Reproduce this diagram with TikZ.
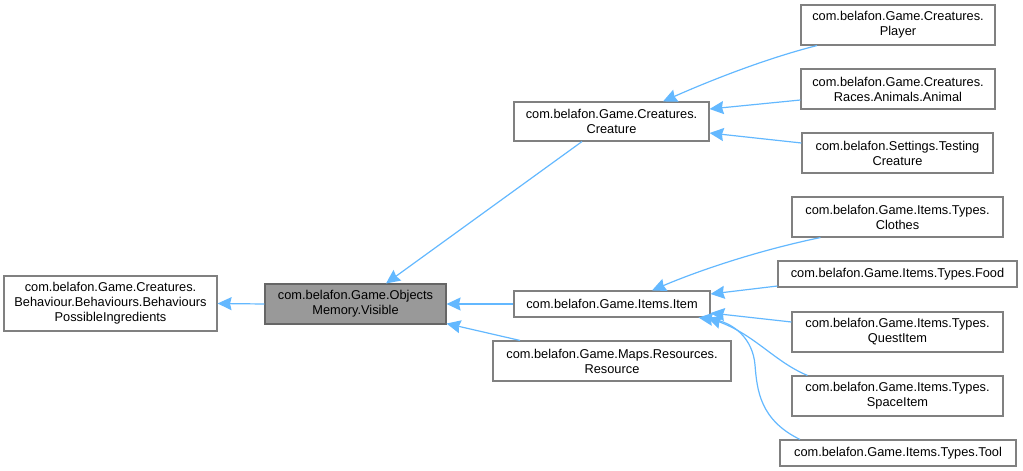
\documentclass[tikz,border=0pt]{standalone}
\usepackage{fontspec}
\setmainfont{Liberation Sans}
\usetikzlibrary{arrows.meta}
\definecolor{edgeblue}{HTML}{63B8FF}
\definecolor{boxborder}{HTML}{808080}
\definecolor{curfill}{HTML}{999999}
\definecolor{curborder}{HTML}{666666}
\tikzset{
  cls/.style={draw=boxborder, line width=1.1pt, fill=white, align=center, inner sep=0pt,
    font=\fontsize{12.8}{15}\selectfont},
  cur/.style={cls, fill=curfill, draw=curborder},
  inh/.style={draw=edgeblue, line width=1.2pt, -{Stealth[length=14pt,width=13pt,inset=1.5pt]}},
}
\begin{document}
\begin{tikzpicture}[x=1pt,y=-1pt]
\useasboundingbox (0,0) rectangle (1023,471);
\node[cls, minimum width=213pt, minimum height=55pt] (bpi) at (110.5,303.5) {com.belafon.Game.Creatures.\\Behaviour.Behaviours.Behaviours\\PossibleIngredients};
\node[cur, minimum width=181pt, minimum height=40pt] (vis) at (355.5,304) {com.belafon.Game.Objects\\Memory.Visible};
\node[cls, minimum width=195pt, minimum height=39pt] (cre) at (611.5,121.5) {com.belafon.Game.Creatures.\\Creature};
\node[cls, minimum width=196pt, minimum height=26pt] (itm) at (612,304) {com.belafon.Game.Items.Item};
\node[cls, minimum width=238pt, minimum height=40pt] (res) at (612,361) {com.belafon.Game.Maps.Resources.\\Resource};
\node[cls, minimum width=194pt, minimum height=40pt] (ply) at (898,25) {com.belafon.Game.Creatures.\\Player};
\node[cls, minimum width=194pt, minimum height=40pt] (ani) at (898,89) {com.belafon.Game.Creatures.\\Races.Animals.Animal};
\node[cls, minimum width=191pt, minimum height=40pt] (tst) at (897.5,153) {com.belafon.Settings.Testing\\Creature};
\node[cls, minimum width=211pt, minimum height=40pt] (clo) at (897.5,217) {com.belafon.Game.Items.Types.\\Clothes};
\node[cls, minimum width=239pt, minimum height=26pt] (foo) at (897.5,274) {com.belafon.Game.Items.Types.Food};
\node[cls, minimum width=211pt, minimum height=40pt] (qst) at (897.5,332) {com.belafon.Game.Items.Types.\\QuestItem};
\node[cls, minimum width=211pt, minimum height=40pt] (spc) at (897.5,396) {com.belafon.Game.Items.Types.\\SpaceItem};
\node[cls, minimum width=236pt, minimum height=26pt] (tol) at (898,453) {com.belafon.Game.Items.Types.Tool};

\draw[inh] (vis.west) -- (bpi.east);
\draw[inh] ([xshift=-29.5pt]cre.south) -- ([xshift=30.5pt]vis.north);
\draw[inh] (itm.west) -- (vis.east);
\draw[inh] ([xshift=-92pt]res.north) -- ([yshift=1pt]vis.south east);
\draw[inh] ([xshift=-81pt]ply.south) .. controls (760,60) and (700,85) .. ([xshift=51.5pt]cre.north);
\draw[inh] ([yshift=-11pt]ani.west) -- ([yshift=12.5pt]cre.east);
\draw[inh] ([yshift=10pt]tst.west) -- ([yshift=-11.5pt]cre.east);
\draw[inh] ([xshift=-77pt]clo.south) .. controls (760,250) and (700,270) .. ([xshift=40pt]itm.north);
\draw[inh] ([yshift=-12pt]foo.west) -- ([yshift=10pt]itm.east);
\draw[inh] ([yshift=10pt]qst.west) -- ([yshift=-9pt]itm.east);
\draw[inh] ([xshift=-90pt]spc.north) .. controls (775,362) and (755,335) .. ([xshift=-3pt]itm.south east);
\draw[inh] ([xshift=-98pt]tol.north) .. controls (760,420) and (757,390) .. (755,365) .. controls (753,340) and (735,322) .. ([xshift=-12pt]itm.south east);
\end{tikzpicture}
\end{document}
